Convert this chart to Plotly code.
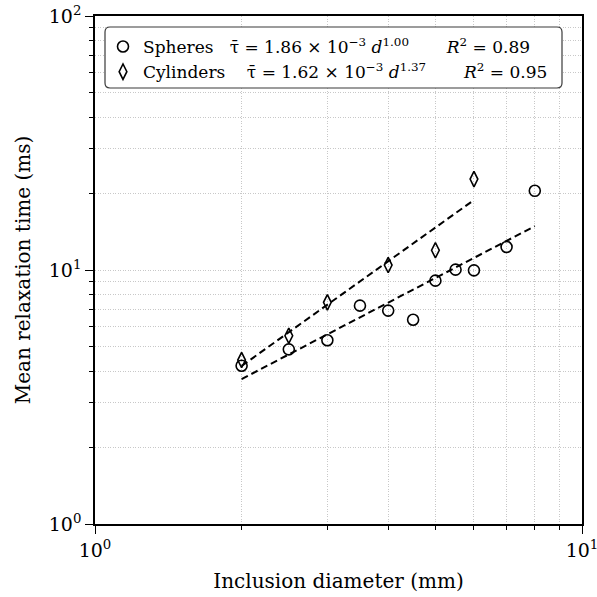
import plotly.graph_objects as go

# Data
sph_d = [2.0, 2.5, 3.0, 3.5, 4.0, 4.5, 5.0, 5.5, 6.0, 7.0, 8.0]
sph_tau = [4.20, 4.87, 5.29, 7.24, 6.92, 6.37, 9.08, 10.03, 9.97, 12.32, 20.5]
cyl_d = [2.0, 2.5, 3.0, 4.0, 5.0, 6.0]
cyl_tau = [4.42, 5.51, 7.46, 10.46, 11.96, 22.8]

# power-law fit lines (straight on log-log), endpoints
fit_sph_d = [2.0, 8.0]
fit_sph_tau = [3.72, 14.88]
fit_cyl_d = [2.0, 6.0]
fit_cyl_tau = [4.19, 18.86]

x_ticks = [1, 10]
x_ticktext = ["10<sup>0</sup>", "10<sup>1</sup>"]
y_ticks = [1, 10, 100]
y_ticktext = ["10<sup>0</sup>", "10<sup>1</sup>", "10<sup>2</sup>"]

NB = "\u00a0"
def eq(label, gap1, coef, expo, r2):
    return (label + NB * gap1 + "τ\u0304" + NB + "=" + NB + coef + NB + "×" + NB
            + "10<sup>−3</sup>" + NB + "<i>d</i><sup>" + expo + "</sup>"
            + NB * 7 + "<i>R</i><sup>2</sup>" + NB + "=" + NB + r2)

sph_name = eq("Spheres", 3, "1.86", "1.00", "0.89")
cyl_name = eq("Cylinders", 4, "1.62", "1.37", "0.95")

FONT = "DejaVu Serif"
fig = go.Figure()
fig.add_trace(go.Scatter(x=fit_sph_d, y=fit_sph_tau, mode="lines", showlegend=False,
                         line=dict(color="black", width=2, dash="7px,4px")))
fig.add_trace(go.Scatter(x=fit_cyl_d, y=fit_cyl_tau, mode="lines", showlegend=False,
                         line=dict(color="black", width=2, dash="7px,4px")))
fig.add_trace(go.Scatter(x=sph_d, y=sph_tau, mode="markers", name=sph_name,
                         marker=dict(symbol="circle-open", size=11, color="black",
                                     line=dict(width=1.6, color="black"))))
fig.add_trace(go.Scatter(x=cyl_d, y=cyl_tau, mode="markers", name=cyl_name,
                         marker=dict(symbol="diamond-tall-open", size=11, color="black",
                                     line=dict(width=1.6, color="black"))))

L, R, T, B = 95, 15, 16, 73
W = H = 597
pw = W - L - R
ph = H - T - B

GRID = "#c8c8c8"
axis_common = dict(
    type="log", showline=True, linecolor="black", linewidth=1.5, mirror=True,
    ticks="outside", ticklen=8, tickwidth=1.3, tickcolor="black", automargin=False,
    ticklabeloverflow="allow",
    showgrid=True, gridcolor=GRID, griddash="1px,1.5px", gridwidth=0.9,
    zeroline=False, tickfont=dict(family=FONT, size=19, color="black"),
    minor=dict(ticks="outside", ticklen=4, tickwidth=1, tickcolor="black",
               showgrid=True, gridcolor=GRID, griddash="1px,1.5px", gridwidth=0.9,
               dtick="D1"),
)
fig.update_xaxes(**axis_common, range=[0, 1], tickvals=x_ticks, ticktext=x_ticktext,
                 title=dict(text="Inclusion diameter (mm)", font=dict(family=FONT, size=20, color="black"),
                            standoff=14))
fig.update_yaxes(**axis_common, range=[0, 2], tickvals=y_ticks, ticktext=y_ticktext,
                 title=dict(text="Mean relaxation time (ms)", font=dict(family=FONT, size=20, color="black"),
                            standoff=13))

# rounded legend frame (pixels -> paper)
def px2paper(x, y):
    return (x - L) / pw, (H - B - y) / ph

x0, y0, x1, y1, r = 105, 27, 562, 88, 5
def P(x, y):
    a, b = px2paper(x, y)
    return f"{a:.5f},{b:.5f}"
path = (f"M {P(x0 + r, y0)} L {P(x1 - r, y0)} Q {P(x1, y0)} {P(x1, y0 + r)} "
        f"L {P(x1, y1 - r)} Q {P(x1, y1)} {P(x1 - r, y1)} L {P(x0 + r, y1)} "
        f"Q {P(x0, y1)} {P(x0, y1 - r)} L {P(x0, y0 + r)} Q {P(x0, y0)} {P(x0 + r, y0)} Z")
fig.add_shape(type="path", path=path, xref="paper", yref="paper", layer="above",
              fillcolor="white", line=dict(color="#3a3a3a", width=1.2))

lx, ly = px2paper(103, 29)
fig.update_layout(
    width=W, height=H, margin=dict(l=L, r=R, t=T, b=B, autoexpand=False),
    paper_bgcolor="white", plot_bgcolor="white",
    font=dict(family=FONT, size=17, color="black"),
    legend=dict(x=lx, y=ly, xanchor="left", yanchor="top", bgcolor="rgba(0,0,0,0)",
                borderwidth=0, font=dict(family=FONT, size=17, color="black"),
                tracegroupgap=0),
)
fig.write_html("out.html")
